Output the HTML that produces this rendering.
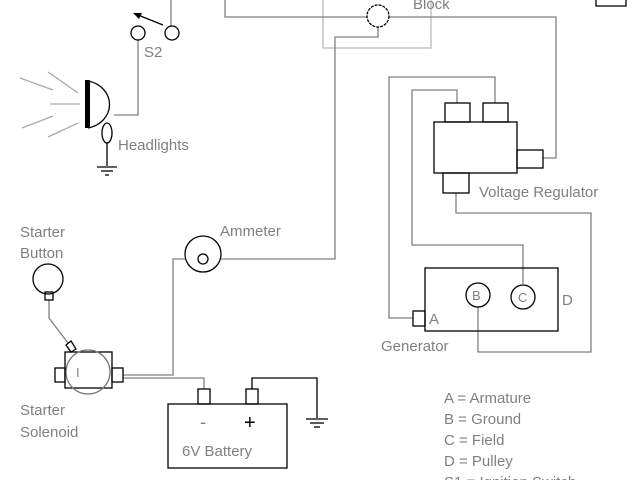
<!DOCTYPE html>
<html><head><style>body{margin:0;background:#fff}svg{display:block}text{font-family:"Liberation Sans",sans-serif;fill:#808080;font-size:15px}</style></head><body>
<svg width="640" height="480" viewBox="0 0 640 480" xmlns="http://www.w3.org/2000/svg">
<g fill="none" stroke="#808080" stroke-width="1.3">
<rect x="323" y="-2" width="108" height="50" stroke="#bbb"/>
<polyline points="225,0 225,17 367,17"/>
<polyline points="389,17 556,17 556,158 543,158"/>
<polyline points="378,27 378,37 335,37 335,259 221,259"/>
<polyline points="171,0 171,26"/>
<polyline points="138,40 138,115 114,115"/>
<polyline points="457,103 457,90 412,90 412,245 523,245 523,284"/>
<polyline points="495,103 495,77 389,77 389,318 413,318"/>
<polyline points="456,193 456,213 591,213 591,352 478,352 478,307"/>
<polyline points="185,259 173,259 173,375 123,375"/>
<polyline points="123,378 204,378 204,389"/>
<polyline points="49,300 49,318 68,343"/>
<g stroke="#aaa"><line x1="20" y1="78" x2="53" y2="90"/><line x1="48" y1="72" x2="78" y2="93"/><line x1="50" y1="104" x2="80" y2="104"/><line x1="22" y1="128" x2="53" y2="116"/><line x1="48" y1="137" x2="78" y2="123"/></g>
</g>
<g fill="none" stroke="#000" stroke-width="1.3">
<circle cx="138" cy="33" r="7"/><circle cx="172" cy="33" r="7"/>
<line x1="163" y1="25" x2="138" y2="15"/>
<circle cx="378" cy="16" r="11" stroke-dasharray="3,1"/>
<rect x="596" y="-2" width="30" height="8"/>
<path d="M88,81 A27,24 0 0 1 88,128"/>
<ellipse cx="107" cy="133" rx="5" ry="10"/>
<line x1="107" y1="143" x2="107" y2="166"/>
<line x1="97" y1="167" x2="117" y2="167"/><line x1="101" y1="171" x2="113" y2="171"/><line x1="105" y1="175" x2="109" y2="175"/>
<rect x="434" y="122" width="83" height="51"/>
<rect x="445" y="103" width="25" height="19"/><rect x="483" y="103" width="25" height="19"/>
<rect x="517" y="150" width="26" height="18"/><rect x="443" y="173" width="26" height="20"/>
<rect x="425" y="268" width="133" height="63"/>
<rect x="413" y="311" width="12" height="15"/>
<circle cx="478" cy="295" r="12"/><circle cx="523" cy="297" r="12"/>
<circle cx="203" cy="254" r="18"/><circle cx="203" cy="259" r="5"/>
<circle cx="48" cy="279" r="15"/><rect x="45" y="292" width="8" height="8"/>
<rect x="65" y="352" width="47" height="36"/>
<circle cx="88" cy="372" r="22" stroke="#777"/>
<rect x="55" y="368" width="10" height="14"/><rect x="112" y="368" width="11" height="14"/>
<path d="M66,345 L71,341 L76,349 L71,352Z"/>
<rect x="168" y="404" width="119" height="64"/>
<rect x="198" y="389" width="12" height="15"/><rect x="246" y="389" width="12" height="15"/>
<polyline points="252,389 252,378 317,378 317,418"/>
<line x1="306" y1="419" x2="328" y2="419"/><line x1="310" y1="423" x2="324" y2="423"/><line x1="314" y1="427" x2="320" y2="427"/>
</g>
<rect x="85" y="80" width="5" height="48" fill="#000"/>
<path d="M133,13 L142,13 L139,19Z" fill="#000"/>
<text x="144" y="57">S2</text>
<text x="413" y="9">Block</text>
<text x="118" y="150">Headlights</text>
<text x="220" y="236">Ammeter</text>
<text x="479" y="197">Voltage Regulator</text>
<text x="20" y="237">Starter</text><text x="20" y="258">Button</text>
<text x="76" y="377" style="font-size:13px">I</text>
<text x="20" y="415">Starter</text><text x="20" y="437">Solenoid</text>
<text x="200" y="428" style="font-size:18px">-</text><text x="244" y="429" style="font-size:20px;fill:#000">+</text>
<text x="182" y="456">6V Battery</text>
<text x="472" y="300" style="font-size:13px">B</text><text x="518" y="302" style="font-size:13px">C</text>
<text x="562" y="305">D</text><text x="429" y="324">A</text>
<text x="381" y="351">Generator</text>
<text x="444" y="403">A = Armature</text>
<text x="444" y="424">B = Ground</text>
<text x="444" y="445">C = Field</text>
<text x="444" y="466">D = Pulley</text>
<text x="444" y="487">S1 = Ignition Switch</text>
</svg>
</body></html>
